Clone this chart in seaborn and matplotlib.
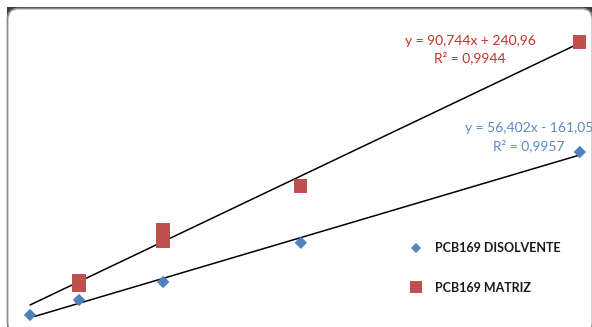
import matplotlib
matplotlib.use("Agg")
import matplotlib.pyplot as plt
from matplotlib.patches import FancyBboxPatch, Rectangle
from matplotlib.lines import Line2D
import numpy as np
import pandas as pd
import seaborn as sns

# Calibration data: concentration vs. peak area
conc = [2.2, 11.8, 28.3, 55.3, 110]
disolvente = [67, 627, 1300, 2767, 6154]

matriz_conc = [11.8, 11.8, 28.3, 28.3, 55.3, 110]
matriz = [1337, 1187, 3241, 2830, 4884, 10261]

series_names = ["PCB169 DISOLVENTE", "PCB169 MATRIZ"]

# Linear trendlines (slope, intercept, R²)
fit_disolvente = (56.402, -161.05, 0.9957)
fit_matriz = (90.744, 240.96, 0.9944)

BLUE = "#4F81BD"
RED = "#C0504D"

sns.set_theme(style="white")
plt.rcParams["font.family"] = ["Lato", "DejaVu Sans"]

W, H = 592, 327
fig = plt.figure(figsize=(W / 100, H / 100), dpi=100)
fig.patch.set_facecolor("white")

# Chart frame drawn in pixel space
frame = fig.add_axes([0, 0, 1, 1], zorder=0)
frame.set_xlim(0, W)
frame.set_ylim(H, 0)
frame.axis("off")
frame.add_patch(Rectangle((7, 7), 600, 340, facecolor="#3a3a3a", edgecolor="none"))
frame.add_patch(FancyBboxPatch((7.5, 8.5), 585, 325,
                               boxstyle="round,pad=0,rounding_size=11",
                               facecolor="white", edgecolor="#8c8c8c", linewidth=1.3))

# Plot area
ax = fig.add_axes([18.8 / W, (H - 316.8) / H, 571.2 / W, 301.8 / H], zorder=1)
ax.set_facecolor("none")
ax.set_xlim(0, 112)
ax.set_ylim(0, 11270)
ax.axis("off")

df_d = pd.DataFrame({"conc": conc, "area": disolvente})
df_m = pd.DataFrame({"conc": matriz_conc, "area": matriz})

# Trendlines
xfit = np.array([min(conc), max(conc)])
for (m, b, _r2) in (fit_disolvente, fit_matriz):
    sns.lineplot(x=xfit, y=m * xfit + b, ax=ax, color="black", linewidth=1.1, zorder=2)

sns.scatterplot(data=df_d, x="conc", y="area", ax=ax, marker="D", s=40,
                color=BLUE, edgecolor="none", zorder=3, clip_on=False)
sns.scatterplot(data=df_m, x="conc", y="area", ax=ax, marker="s", s=92,
                color=RED, edgecolor="none", zorder=3, clip_on=False)


def eq_text(m, b):
    sign = "+" if b >= 0 else "-"
    return f"y = {f'{m:.3f}'.replace('.', ',')}x {sign} {f'{abs(b):.2f}'.replace('.', ',')}"


def r2_text(r2):
    return "R² = " + f"{r2:.4f}".replace(".", ",")


frame.text(470, 41, eq_text(*fit_matriz[:2]), color="#C9302C", fontsize=10,
           ha="center", va="center", zorder=5)
frame.text(470, 58, r2_text(fit_matriz[2]), color="#C9302C", fontsize=10,
           ha="center", va="center", zorder=5)
frame.text(529, 128, eq_text(*fit_disolvente[:2]), color="#5A8AC6", fontsize=10,
           ha="center", va="center", zorder=5)
frame.text(529, 146, r2_text(fit_disolvente[2]), color="#5A8AC6", fontsize=10,
           ha="center", va="center", zorder=5)

handles = [
    Line2D([], [], marker="D", linestyle="none", color=BLUE, markersize=5.5, markeredgewidth=0),
    Line2D([], [], marker="s", linestyle="none", color=RED, markersize=9, markeredgewidth=0),
]
leg = ax.legend(handles, series_names, loc="center left",
                bbox_to_anchor=(409.75, 268), bbox_transform=frame.transData,
                frameon=False, handlelength=1.0, handletextpad=1.0,
                borderpad=0, borderaxespad=0, labelspacing=2.2,
                prop={"family": ["Lato", "DejaVu Sans"], "weight": "bold", "size": 9})
for t in leg.get_texts():
    t.set_color("#1a1a1a")

fig.savefig("out.png", dpi=100)
